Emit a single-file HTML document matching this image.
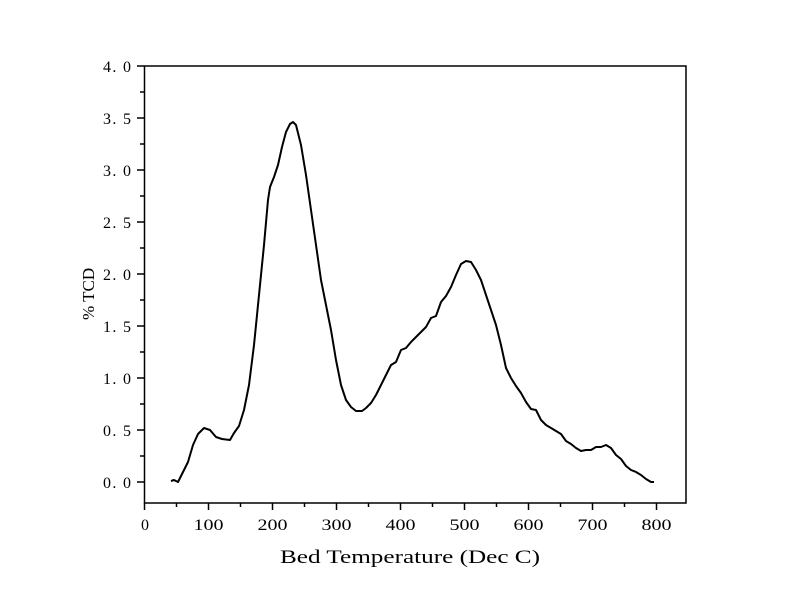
<!DOCTYPE html>
<html><head><meta charset="utf-8"><style>html,body{margin:0;padding:0;background:#fff}</style></head><body>
<svg width="800" height="600" viewBox="0 0 800 600" xmlns="http://www.w3.org/2000/svg" font-family="Liberation Serif, 'Noto Serif CJK SC', serif" font-size="16" fill="#000">
<rect x="144.5" y="66" width="541.5" height="437" fill="none" stroke="#000" stroke-width="1.5"/>
<g stroke="#000" stroke-width="1.5">
<line x1="144.5" y1="503" x2="144.5" y2="510"/><line x1="176.5" y1="503" x2="176.5" y2="507"/>
<line x1="208.5" y1="503" x2="208.5" y2="510"/><line x1="240.5" y1="503" x2="240.5" y2="507"/>
<line x1="272.5" y1="503" x2="272.5" y2="510"/><line x1="304.5" y1="503" x2="304.5" y2="507"/>
<line x1="336.5" y1="503" x2="336.5" y2="510"/><line x1="368.5" y1="503" x2="368.5" y2="507"/>
<line x1="400.5" y1="503" x2="400.5" y2="510"/><line x1="432.5" y1="503" x2="432.5" y2="507"/>
<line x1="464.5" y1="503" x2="464.5" y2="510"/><line x1="496.5" y1="503" x2="496.5" y2="507"/>
<line x1="528.5" y1="503" x2="528.5" y2="510"/><line x1="560.5" y1="503" x2="560.5" y2="507"/>
<line x1="592.5" y1="503" x2="592.5" y2="510"/><line x1="624.5" y1="503" x2="624.5" y2="507"/>
<line x1="656.5" y1="503" x2="656.5" y2="510"/>
<line x1="137" y1="66" x2="144.5" y2="66"/><line x1="140" y1="92" x2="144.5" y2="92"/>
<line x1="137" y1="118" x2="144.5" y2="118"/><line x1="140" y1="144" x2="144.5" y2="144"/>
<line x1="137" y1="170" x2="144.5" y2="170"/><line x1="140" y1="196" x2="144.5" y2="196"/>
<line x1="137" y1="222" x2="144.5" y2="222"/><line x1="140" y1="248" x2="144.5" y2="248"/>
<line x1="137" y1="274" x2="144.5" y2="274"/><line x1="140" y1="300" x2="144.5" y2="300"/>
<line x1="137" y1="326" x2="144.5" y2="326"/><line x1="140" y1="352" x2="144.5" y2="352"/>
<line x1="137" y1="378" x2="144.5" y2="378"/><line x1="140" y1="404" x2="144.5" y2="404"/>
<line x1="137" y1="430" x2="144.5" y2="430"/><line x1="140" y1="456" x2="144.5" y2="456"/>
<line x1="137" y1="482" x2="144.5" y2="482"/>
</g>
<g text-anchor="middle">
<text x="145" y="530">0</text>
<text x="208.5" y="530" textLength="30" lengthAdjust="spacingAndGlyphs">100</text>
<text x="272.5" y="530" textLength="30" lengthAdjust="spacingAndGlyphs">200</text>
<text x="336.5" y="530" textLength="30" lengthAdjust="spacingAndGlyphs">300</text>
<text x="400.5" y="530" textLength="30" lengthAdjust="spacingAndGlyphs">400</text>
<text x="464.5" y="530" textLength="30" lengthAdjust="spacingAndGlyphs">500</text>
<text x="528.5" y="530" textLength="30" lengthAdjust="spacingAndGlyphs">600</text>
<text x="592.5" y="530" textLength="30" lengthAdjust="spacingAndGlyphs">700</text>
<text x="656.5" y="530" textLength="30" lengthAdjust="spacingAndGlyphs">800</text>
</g>
<g>
<text x="103" y="72" textLength="28" lengthAdjust="spacing">4. 0</text>
<text x="103" y="124" textLength="28" lengthAdjust="spacing">3. 5</text>
<text x="103" y="176" textLength="28" lengthAdjust="spacing">3. 0</text>
<text x="103" y="228" textLength="28" lengthAdjust="spacing">2. 5</text>
<text x="103" y="280" textLength="28" lengthAdjust="spacing">2. 0</text>
<text x="103" y="332" textLength="28" lengthAdjust="spacing">1. 5</text>
<text x="103" y="384" textLength="28" lengthAdjust="spacing">1. 0</text>
<text x="103" y="436" textLength="28" lengthAdjust="spacing">0. 5</text>
<text x="103" y="488" textLength="28" lengthAdjust="spacing">0. 0</text>
</g>
<text x="280" y="563" font-size="19" textLength="260" lengthAdjust="spacingAndGlyphs">Bed Temperature (Dec C)</text>
<text transform="translate(94,320) rotate(-90)" font-size="17">% TCD</text>
<polyline fill="none" stroke="#000" stroke-width="2" stroke-linejoin="round" points="171,481 174,480 178,482 183,472 188,462 193,445 198,434 204,428 210,430 216,437 222,439 230,440 234,433 239,426 244,410 249,385 254,345 259,295 264,245 268,200 270,187 274,177 278,165 282,147 286,132 290,124 293,122 296,125 301,145 306,175 311,210 316,245 321,280 326,305 331,330 336,360 341,385 346,400 351,407 356,411 362,411 366,408 371,403 376,395 381,385 386,375 391,365 396,362 401,350 406,348 411,342 416,337 421,332 426,327 431,318 436,316 441,302 446,296 451,287 456,275 461,264 466,261 471,262 476,270 481,280 486,295 491,310 496,325 501,345 506,368 511,378 516,386 521,393 526,402 531,409 536,410 541,420 546,425 551,428 556,431 561,434 566,441 571,444 576,448 581,451 586,450 591,450 596,447 601,447 606,445 611,448 616,455 621,459 626,466 631,470 636,472 641,475 646,479 651,482 654,482"/>
</svg>
</body></html>
